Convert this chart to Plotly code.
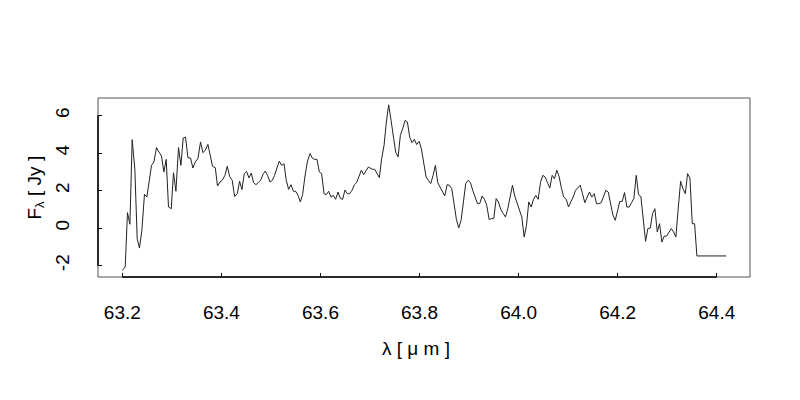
import plotly.graph_objects as go

wavelength = [
    63.2000, 63.2058, 63.2104, 63.2153, 63.2199, 63.2254, 63.2300, 63.2346, 63.2395, 63.2447,
    63.2496, 63.2542, 63.2589, 63.2637, 63.2690, 63.2738, 63.2791, 63.2839, 63.2886, 63.2932,
    63.2987, 63.3033, 63.3082, 63.3134, 63.3183, 63.3229, 63.3276, 63.3324, 63.3377, 63.3425,
    63.3472, 63.3526, 63.3579, 63.3627, 63.3674, 63.3728, 63.3775, 63.3821, 63.3876, 63.3922,
    63.3971, 63.4017, 63.4072, 63.4118, 63.4165, 63.4219, 63.4266, 63.4320, 63.4367, 63.4415,
    63.4462, 63.4508, 63.4557, 63.4603, 63.4650, 63.4698, 63.4744, 63.4791, 63.4839, 63.4886,
    63.4932, 63.4981, 63.5027, 63.5074, 63.5122, 63.5169, 63.5215, 63.5264, 63.5310, 63.5357,
    63.5405, 63.5452, 63.5498, 63.5547, 63.5593, 63.5639, 63.5688, 63.5734, 63.5789, 63.5835,
    63.5882, 63.5930, 63.5977, 63.6023, 63.6072, 63.6118, 63.6165, 63.6213, 63.6260, 63.6306,
    63.6355, 63.6401, 63.6447, 63.6496, 63.6542, 63.6589, 63.6637, 63.6684, 63.6730, 63.6779,
    63.6825, 63.6872, 63.6920, 63.6967, 63.7048, 63.7094, 63.7142, 63.7189, 63.7235, 63.7284,
    63.7330, 63.7377, 63.7425, 63.7472, 63.7518, 63.7567, 63.7613, 63.7660, 63.7708, 63.7755,
    63.7801, 63.7849, 63.7896, 63.7942, 63.7991, 63.8037, 63.8084, 63.8132, 63.8179, 63.8225,
    63.8274, 63.8320, 63.8367, 63.8415, 63.8462, 63.8508, 63.8557, 63.8603, 63.8650, 63.8698,
    63.8744, 63.8791, 63.8839, 63.8886, 63.8932, 63.8981, 63.9027, 63.9074, 63.9122, 63.9169,
    63.9215, 63.9264, 63.9310, 63.9357, 63.9405, 63.9452, 63.9498, 63.9547, 63.9593, 63.9639,
    63.9688, 63.9734, 63.9781, 63.9829, 63.9876, 63.9922, 63.9971, 64.0017, 64.0064, 64.0112,
    64.0159, 64.0205, 64.0254, 64.0300, 64.0347, 64.0395, 64.0441, 64.0488, 64.0536, 64.0583,
    64.0629, 64.0678, 64.0724, 64.0771, 64.0819, 64.0866, 64.0912, 64.0961, 64.1007, 64.1054,
    64.1102, 64.1149, 64.1195, 64.1243, 64.1290, 64.1336, 64.1385, 64.1431, 64.1478, 64.1526,
    64.1573, 64.1619, 64.1668, 64.1714, 64.1761, 64.1809, 64.1856, 64.1902, 64.1951, 64.1997,
    64.2043, 64.2092, 64.2138, 64.2185, 64.2233, 64.2280, 64.2326, 64.2375, 64.2421, 64.2468,
    64.2516, 64.2563, 64.2609, 64.2658, 64.2704, 64.2751, 64.2799, 64.2845, 64.2892, 64.2940,
    64.2987, 64.3033, 64.3082, 64.3128, 64.3175, 64.3223, 64.3270, 64.3316, 64.3365, 64.3411,
    64.3458, 64.3506, 64.3553, 64.3599, 64.4190,
]

flux_jy = [
    -2.26, -2.08, 0.82, 0.20, 4.71, 3.08, -0.57, -1.07, -0.12, 1.80,
    1.65, 2.40, 3.34, 3.52, 4.29, 4.05, 3.84, 2.99, 3.66, 1.12,
    1.03, 2.95, 1.96, 4.29, 3.34, 4.80, 4.85, 3.75, 3.73, 3.20,
    3.52, 3.70, 4.59, 4.02, 4.14, 4.46, 3.93, 3.29, 3.22, 2.24,
    2.45, 2.54, 2.81, 3.29, 2.76, 2.54, 1.68, 1.83, 2.49, 2.05,
    2.90, 3.02, 2.67, 2.93, 2.42, 2.31, 2.42, 2.54, 2.85, 3.04,
    2.81, 2.45, 2.54, 2.81, 3.20, 3.56, 3.34, 3.43, 2.54, 2.06,
    2.31, 1.96, 1.96, 1.74, 1.39, 1.78, 2.77, 3.52, 3.97, 3.73,
    3.66, 3.66, 2.99, 2.90, 1.83, 1.78, 1.96, 1.65, 1.74, 1.53,
    1.92, 1.57, 1.53, 2.03, 1.83, 1.83, 2.01, 2.31, 2.42, 2.72,
    3.08, 2.85, 3.08, 3.25, 3.13, 3.13, 2.90, 2.69, 3.70, 4.41,
    5.65, 6.57, 5.74, 4.94, 4.05, 3.79, 4.94, 5.30, 5.74, 5.65,
    4.85, 4.55, 4.73, 4.45, 4.62, 4.23, 3.43, 2.72, 2.54, 2.37,
    2.81, 3.34, 2.42, 2.19, 1.92, 1.71, 2.31, 2.28, 2.10, 1.12,
    0.46, 0.00, 0.41, 1.39, 2.37, 2.54, 2.42, 2.01, 1.65, 1.30,
    1.30, 1.71, 1.53, 1.21, 0.45, 0.50, 0.50, 1.57, 1.39, 1.00,
    0.77, 0.59, 1.03, 1.65, 2.28, 1.70, 1.30, 1.00, 0.59, -0.48,
    0.14, 1.39, 1.12, 1.53, 1.74, 1.53, 2.42, 2.81, 2.72, 2.42,
    2.13, 2.81, 2.63, 3.08, 2.72, 2.10, 1.65, 1.53, 1.12, 1.39,
    1.65, 2.01, 2.13, 2.28, 1.83, 1.35, 1.65, 1.92, 1.65, 1.83,
    1.30, 1.30, 1.35, 1.65, 2.01, 1.92, 1.39, 0.71, 0.41, 0.85,
    1.42, 1.42, 1.89, 1.12, 1.12, 1.35, 1.57, 2.81, 1.78, 1.68,
    0.50, -0.71, -0.03, 0.00, 0.77, 1.03, -0.21, 0.23, -0.75, -0.43,
    -0.43, -0.21, -0.03, -0.21, -0.48, 1.07, 2.49, 2.10, 1.83, 2.90,
    2.67, 0.23, 0.23, -1.49, -1.49,
]

x_ticks = [63.2, 63.4, 63.6, 63.8, 64.0, 64.2, 64.4]
x_tick_labels = ["63.2", "63.4", "63.6", "63.8", "64.0", "64.2", "64.4"]
y_ticks = [-2, 0, 2, 4, 6]
y_tick_labels = ["-2", "0", "2", "4", "6"]

FONT = "Liberation Sans, Arial, Helvetica, sans-serif"
FS = 19

fig = go.Figure()
fig.add_trace(go.Scatter(
    x=wavelength, y=flux_jy, mode="lines",
    line=dict(color="#222222", width=1),
    showlegend=False, hoverinfo="x+y",
))

# plot box (grey) and R-style axis lines between first and last tick (black)
fig.add_shape(type="rect", xref="paper", yref="paper", x0=0, x1=1, y0=0, y1=1,
              line=dict(color="#555555", width=1), layer="above")
fig.add_shape(type="line", xref="x", yref="paper", x0=x_ticks[0], x1=x_ticks[-1], y0=0, y1=0,
              line=dict(color="black", width=1.5), layer="above")
fig.add_shape(type="line", xref="paper", yref="y", x0=0, x1=0, y0=y_ticks[0], y1=y_ticks[-1],
              line=dict(color="black", width=1.5), layer="above")

fig.update_xaxes(
    range=[63.1509, 64.4671], tickmode="array", tickvals=x_ticks, ticktext=x_tick_labels,
    ticks="inside", ticklen=4, tickcolor="black", tickwidth=1,
    showgrid=False, zeroline=False, showline=False, automargin=False,
    tickfont=dict(family=FONT, size=FS, color="black"), ticklabelstandoff=22,
)
fig.update_yaxes(
    range=[-2.613, 6.933], tickmode="array", tickvals=y_ticks, ticktext=y_tick_labels,
    ticks="inside", ticklen=4, tickcolor="black", tickwidth=1,
    showgrid=False, zeroline=False, showline=False, tickangle=-90, automargin=False,
    tickfont=dict(family=FONT, size=FS, color="black"), ticklabelstandoff=24,
)

fig.add_annotation(text="λ [ μ m ]", xref="paper", yref="paper", x=0.487, y=0,
                   yshift=-71, showarrow=False, xanchor="center", yanchor="middle",
                   font=dict(family=FONT, size=FS, color="black"))
fig.add_annotation(text="F<sub>λ</sub> [ Jy ]", xref="paper", yref="paper", x=0, y=0.5,
                   xshift=-63, showarrow=False, textangle=-90, xanchor="center", yanchor="middle",
                   font=dict(family=FONT, size=FS, color="black"))

# the page body adds an 8px offset, so the figure is sized to 792x392
fig.update_layout(
    width=792, height=392,
    margin=dict(l=90, r=50, t=90, b=123, autoexpand=False),
    paper_bgcolor="white", plot_bgcolor="white",
    font=dict(family=FONT, size=FS, color="black"),
)

fig.write_html("out.html")
